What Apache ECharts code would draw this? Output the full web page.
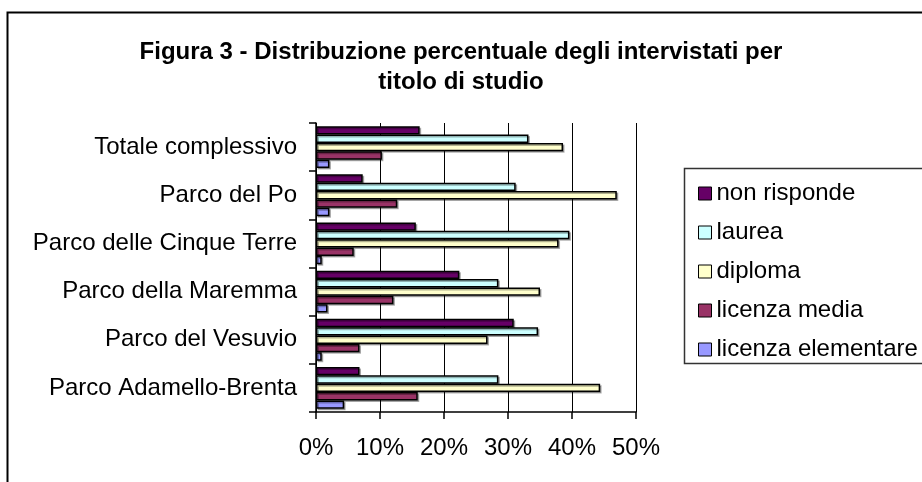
<!DOCTYPE html>
<html>
<head>
<meta charset="utf-8">
<script src="https://cdn.jsdelivr.net/npm/echarts@6/dist/echarts.min.js"></script>
<style>
  html, body { margin: 0; padding: 0; background: #fff; }
  #chart { width: 922px; height: 482px; }
</style>
</head>
<body>
<div id="chart"></div>
<script>
// categorie (dall'alto verso il basso)
var parchi = [
  "Totale complessivo",
  "Parco del Po",
  "Parco delle Cinque Terre",
  "Parco della Maremma",
  "Parco del Vesuvio",
  "Parco Adamello-Brenta"
];
var serieNomi = ["non risponde", "laurea", "diploma", "licenza media", "licenza elementare"];
var serieColori = ["#660066", "#ccffff", "#ffffcc", "#993366", "#9999ff"];

// valori in percentuale, stesso ordine di parchi
var nonRisponde = [16.2, 7.3, 15.6, 22.4, 30.9, 6.8];
var laurea = [33.2, 31.2, 39.6, 28.5, 34.7, 28.5];
var diploma = [38.6, 47.0, 37.9, 35.0, 26.8, 44.4];
var licenzaMedia = [10.3, 12.7, 5.9, 12.1, 6.8, 15.9];
var licenzaElementare = [2.1, 2.1, 0.9, 1.8, 0.9, 4.4];

var xTicks = [0, 10, 20, 30, 40, 50];

var valori = [nonRisponde, laurea, diploma, licenzaMedia, licenzaElementare];
var fontBase = "Liberation Sans, Arial, sans-serif";

var myChart = echarts.init(document.getElementById("chart"), null, { renderer: "canvas" });

var series = [];
for (var i = 0; i < serieNomi.length; i++) {
  series.push({
    name: serieNomi[i],
    type: "bar",
    data: valori[i],
    barGap: "0%",
    barCategoryGap: "13%",
    itemStyle: {
      color: serieColori[i],
      borderColor: "#000",
      borderWidth: 1.5,
      shadowColor: "rgba(0,0,0,0.3)",
      shadowOffsetX: 1.5,
      shadowOffsetY: 1.5
    },
    emphasis: { disabled: true }
  });
}

var option = {
  animation: false,
  textStyle: { fontFamily: fontBase },
  title: {
    text: "Figura 3 - Distribuzione percentuale degli intervistati per\ntitolo di studio",
    left: "center",
    top: 32,
    textStyle: {
      fontFamily: fontBase,
      fontWeight: "bold",
      fontSize: 24,
      lineHeight: 30,
      color: "#000"
    }
  },
  legend: {
    orient: "vertical",
    left: 693,
    top: 176,
    itemWidth: 13,
    itemHeight: 13,
    itemGap: 14,
    icon: "rect",
    data: serieNomi,
    itemStyle: { borderColor: "#000", borderWidth: 1 },
    textStyle: { fontSize: 24, lineHeight: 25, color: "#000", fontFamily: fontBase }
  },
  grid: {
    left: 316,
    top: 123,
    width: 320,
    bottom: 70,
    containLabel: false
  },
  xAxis: {
    type: "value",
    min: xTicks[0],
    max: xTicks[xTicks.length - 1],
    interval: 10,
    axisLine: { show: true, lineStyle: { color: "#000", width: 1.5 } },
    axisTick: { show: true, length: 7, lineStyle: { color: "#000", width: 1.5 } },
    axisLabel: {
      formatter: "{value}%",
      fontSize: 24,
      color: "#000",
      margin: 24
    },
    splitLine: { show: true, lineStyle: { color: "#000", width: 1 } }
  },
  yAxis: {
    type: "category",
    inverse: true,
    data: parchi,
    axisLine: { show: true, lineStyle: { color: "#000", width: 1.5 } },
    axisTick: { show: true, length: 7, lineStyle: { color: "#000", width: 1.5 } },
    axisLabel: { fontSize: 24, color: "#000", margin: 19 },
    splitLine: { show: false }
  },
  graphic: [
    {
      type: "rect",
      shape: { x: 7.5, y: 12.5, width: 1000, height: 1000 },
      style: { fill: "none", stroke: "#000", lineWidth: 2 },
      silent: true
    },
    {
      type: "rect",
      shape: { x: 684.5, y: 168.5, width: 400, height: 195 },
      style: { fill: "none", stroke: "#333", lineWidth: 1.5 },
      silent: true
    }
  ],
  series: series
};

myChart.setOption(option);
window.addEventListener("resize", function () {
  myChart.resize();
});
</script>
</body>
</html>
